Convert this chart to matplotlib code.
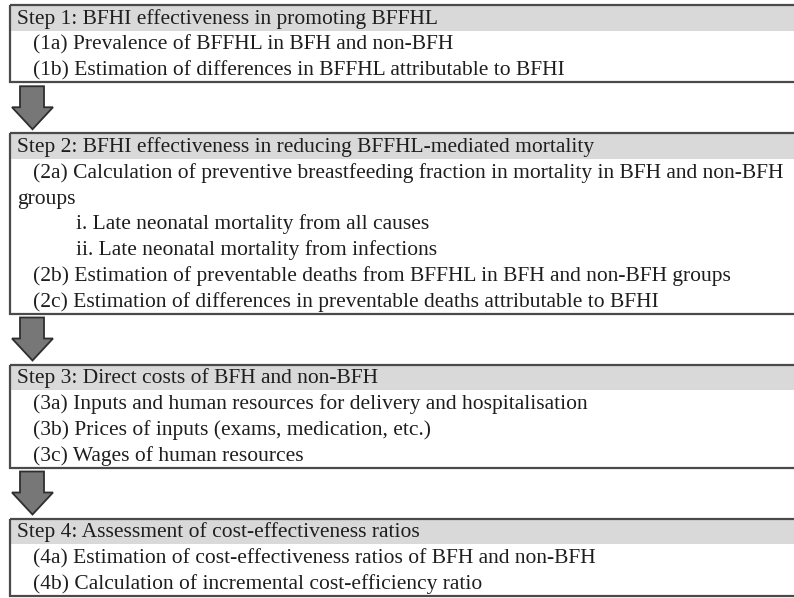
import matplotlib
matplotlib.use("Agg")
import matplotlib.pyplot as plt
from matplotlib.patches import Rectangle, Polygon

W, H = 794, 598
DPI = 100

step_headers = [
    "Step 1: BFHI effectiveness in promoting BFFHL",
    "Step 2: BFHI effectiveness in reducing BFFHL-mediated mortality",
    "Step 3: Direct costs of BFH and non-BFH",
    "Step 4: Assessment of cost-effectiveness ratios",
]
step1_items = [
    "(1a) Prevalence of BFFHL in BFH and non-BFH",
    "(1b) Estimation of differences in BFFHL attributable to BFHI",
]
step2_items = [
    "(2a) Calculation of preventive breastfeeding fraction in mortality in BFH and non-BFH",
    "groups",
    "i. Late neonatal mortality from all causes",
    "ii. Late neonatal mortality from infections",
    "(2b) Estimation of preventable deaths from BFFHL in BFH and non-BFH groups",
    "(2c) Estimation of differences in preventable deaths attributable to BFHI",
]
step2_indent = [1, 0, 2, 2, 1, 1]
step3_items = [
    "(3a) Inputs and human resources for delivery and hospitalisation",
    "(3b) Prices of inputs (exams, medication, etc.)",
    "(3c) Wages of human resources",
]
step4_items = [
    "(4a) Estimation of cost-effectiveness ratios of BFH and non-BFH",
    "(4b) Calculation of incremental cost-efficiency ratio",
]
all_items = [step1_items, step2_items, step3_items, step4_items]
all_indents = [[1] * len(step1_items), step2_indent,
               [1] * len(step3_items), [1] * len(step4_items)]

fig = plt.figure(figsize=(W / DPI, H / DPI), dpi=DPI)
ax = fig.add_axes([0, 0, 1, 1])
ax.set_xlim(0, W)
ax.set_ylim(H, 0)
ax.axis("off")

LH = 25.75
GAP = 51
LEFT = 10
indent_x = {0: 17, 1: 33, 2: 76}
font = dict(family="Liberation Serif", fontsize=15.5, color="#1e1e1e")

y = 5
for k, (hdr, items, inds) in enumerate(zip(step_headers, all_items, all_indents)):
    n = 1 + len(items)
    h = n * LH
    ax.add_patch(Rectangle((LEFT, y), W + 10, LH, facecolor="#d9d9d9",
                           edgecolor="none", zorder=1))
    ax.add_patch(Rectangle((LEFT, y), W + 10, h, facecolor="none",
                           edgecolor="#4a4a4a", linewidth=1.6, zorder=3))
    ax.text(indent_x[0], y + 0.5 * LH + 6, hdr, va="baseline", ha="left",
            zorder=4, **font)
    for i, (t, ind) in enumerate(zip(items, inds)):
        ax.text(indent_x[ind], y + (i + 1.5) * LH + 6, t, va="baseline",
                ha="left", zorder=4, **font)
    bottom = y + h
    if k < len(step_headers) - 1:
        top_next = bottom + GAP
        s_top = bottom + 4
        h_start = bottom + 25
        tip = top_next - 4
        cx = 32.5
        poly = [(20, s_top), (44, s_top), (44, h_start), (53, h_start),
                (cx, tip), (12, h_start), (20, h_start)]
        ax.add_patch(Polygon(poly, closed=True, facecolor="#777777",
                             edgecolor="#2e2e2e", linewidth=1.3, zorder=3))
    y = bottom + GAP

fig.savefig("out.png", dpi=DPI)
